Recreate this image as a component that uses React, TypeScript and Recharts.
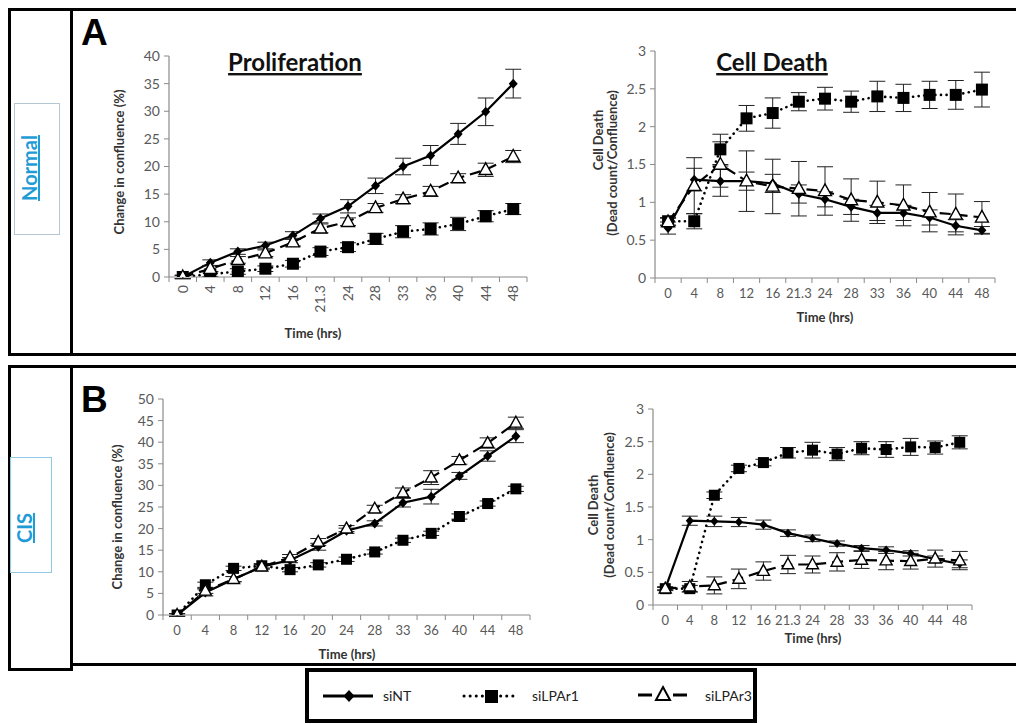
import React from 'react';
import { LineChart, Line, XAxis, YAxis, ErrorBar } from 'recharts';

// ---------- Data ----------
const timesA = ['0', '4', '8', '12', '16', '21.3', '24', '28', '33', '36', '40', '44', '48'];
const timesB = ['0', '4', '8', '12', '16', '20', '24', '28', '33', '36', '40', '44', '48'];

// A – Normal – Proliferation (change in confluence %)
const prolA_siNT = [0, 2.6, 4.6, 5.7, 7.5, 10.6, 12.8, 16.5, 20.0, 22.0, 25.9, 29.9, 35.0];
const prolA_siNT_err = [0.3, 0.5, 0.5, 0.6, 0.7, 0.8, 1.2, 1.4, 1.5, 1.8, 1.9, 2.5, 2.6];
const prolA_siLPAr1 = [0, 0.5, 1.0, 1.5, 2.4, 4.6, 5.4, 6.9, 8.2, 8.7, 9.6, 11.0, 12.3];
const prolA_siLPAr1_err = [0.3, 0.4, 0.5, 0.5, 0.6, 0.7, 0.8, 1.0, 1.1, 1.1, 1.2, 1.0, 1.0];
const prolA_siLPAr3 = [0, 1.5, 3.1, 4.3, 6.3, 8.8, 10.0, 12.5, 14.1, 15.5, 17.9, 19.4, 21.8];
const prolA_siLPAr3_err = [0.3, 0.5, 0.6, 0.6, 0.7, 0.8, 0.7, 0.8, 0.8, 0.9, 0.8, 1.2, 1.1];

// A – Normal – Cell death (dead count / confluence)
const deathA_siNT = [0.66, 1.3, 1.28, 1.28, 1.25, 1.11, 1.04, 0.94, 0.86, 0.86, 0.8, 0.69, 0.63];
const deathA_siNT_err = [0.08, 0.15, 0.2, 0.12, 0.12, 0.12, 0.1, 0.1, 0.1, 0.1, 0.1, 0.08, 0.05];
const deathA_siLPAr1 = [0.75, 0.75, 1.7, 2.11, 2.18, 2.33, 2.37, 2.33, 2.4, 2.38, 2.42, 2.42, 2.49];
const deathA_siLPAr1_err = [0.05, 0.1, 0.2, 0.17, 0.2, 0.12, 0.15, 0.14, 0.2, 0.18, 0.18, 0.19, 0.23];
const deathA_siLPAr3 = [0.74, 1.22, 1.5, 1.28, 1.21, 1.18, 1.15, 1.03, 1.0, 0.96, 0.87, 0.84, 0.8];
const deathA_siLPAr3_err = [0.05, 0.37, 0.3, 0.4, 0.36, 0.36, 0.32, 0.28, 0.28, 0.27, 0.26, 0.27, 0.21];

// B – CIS – Proliferation
const prolB_siNT = [0, 5.2, 8.3, 11.2, 12.7, 15.8, 19.5, 21.2, 26.0, 27.4, 32.2, 36.8, 41.4];
const prolB_siNT_err = [0.3, 0.8, 0.6, 0.5, 0.6, 0.8, 0.6, 0.6, 1.0, 1.7, 0.8, 1.2, 1.5];
const prolB_siLPAr1 = [0, 7.0, 10.8, 11.4, 10.5, 11.6, 12.9, 14.6, 17.3, 18.9, 22.8, 25.8, 29.2];
const prolB_siLPAr1_err = [0.3, 0.6, 0.5, 0.5, 0.5, 0.5, 0.5, 0.5, 0.5, 0.5, 0.6, 0.6, 0.6];
const prolB_siLPAr3 = [0, 5.6, 8.3, 11.2, 13.3, 16.9, 20.0, 24.6, 28.3, 31.8, 35.8, 39.8, 44.5];
const prolB_siLPAr3_err = [0.3, 0.6, 0.6, 0.6, 0.7, 0.8, 0.7, 0.8, 1.1, 1.6, 0.9, 1.2, 1.3];

// B – CIS – Cell death
const deathB_siNT = [0.25, 1.29, 1.28, 1.27, 1.23, 1.1, 1.02, 0.94, 0.87, 0.84, 0.79, 0.7, 0.63];
const deathB_siNT_err = [0.03, 0.07, 0.08, 0.07, 0.07, 0.05, 0.05, 0.04, 0.04, 0.05, 0.04, 0.05, 0.06];
const deathB_siLPAr1 = [0.25, 0.25, 1.68, 2.09, 2.18, 2.33, 2.37, 2.31, 2.4, 2.38, 2.42, 2.41, 2.49];
const deathB_siLPAr1_err = [0.02, 0.05, 0.05, 0.05, 0.05, 0.08, 0.12, 0.1, 0.1, 0.12, 0.13, 0.1, 0.1];
const deathB_siLPAr3 = [0.25, 0.28, 0.3, 0.4, 0.52, 0.62, 0.62, 0.66, 0.69, 0.68, 0.67, 0.71, 0.68];
const deathB_siLPAr3_err = [0.02, 0.08, 0.13, 0.15, 0.14, 0.14, 0.13, 0.14, 0.13, 0.14, 0.12, 0.13, 0.14];

const prolA_yTicks = [0, 5, 10, 15, 20, 25, 30, 35, 40];
const prolB_yTicks = [0, 5, 10, 15, 20, 25, 30, 35, 40, 45, 50];
const death_yTicks = [0, 0.5, 1, 1.5, 2, 2.5, 3];

const seriesNames = ['siNT', 'siLPAr1', 'siLPAr3'];

// ---------- helpers ----------
type Row = { i: number; t: string; nt: number; ntE: number; r1: number; r1E: number; r3: number; r3E: number };

function buildRows(labels: string[], nt: number[], ntE: number[], r1: number[], r1E: number[], r3: number[], r3E: number[]): Row[] {
  return labels.map((t, i) => ({ i, t, nt: nt[i], ntE: ntE[i], r1: r1[i], r1E: r1E[i], r3: r3[i], r3E: r3E[i] }));
}

const AXIS = '#8a8a8a';
const TICK = '#595959';
const FONT = 'Lato, "Open Sans", sans-serif';
const halfTicks: number[] = [];
for (let k = -1; k <= 25; k++) halfTicks.push(k / 2);

const makeDiamond = (r: number) => (p: any) => {
  const { cx, cy, index } = p;
  if (cx == null || cy == null) return <g key={'d' + index} />;
  return <path key={'d' + index} d={`M${cx},${cy - r}L${cx + r * 0.9},${cy}L${cx},${cy + r}L${cx - r * 0.9},${cy}Z`} fill="#000" />;
};
const makeSquare = (s: number) => (p: any) => {
  const { cx, cy, index } = p;
  if (cx == null || cy == null) return <g key={'s' + index} />;
  return <rect key={'s' + index} x={cx - s / 2} y={cy - s / 2} width={s} height={s} fill="#000" />;
};
const makeTriangle = (s: number) => (p: any) => {
  const { cx, cy, index } = p;
  if (cx == null || cy == null) return <g key={'t' + index} />;
  const h = s * 0.9;
  return (
    <path key={'t' + index} d={`M${cx},${cy - h * 0.6}L${cx + s / 2},${cy + h * 0.4}L${cx - s / 2},${cy + h * 0.4}Z`}
      fill="#fff" stroke="#000" strokeWidth={1.4} strokeLinejoin="miter" />
  );
};

const XTick = (props: any) => {
  const { x, y, payload, labels, rotate } = props;
  const v = payload.value as number;
  if (Math.abs(v - Math.round(v)) > 0.01) {
    return <line x1={x} x2={x} y1={y} y2={y + 5} stroke={AXIS} strokeWidth={1} />;
  }
  const label = labels[Math.round(v)];
  if (rotate) {
    return (
      <text x={x} y={y + 8} transform={`rotate(-90, ${x}, ${y + 8})`} textAnchor="end" dy="0.35em"
        fontFamily={FONT} fontSize={14} fill={TICK}>{label}</text>
    );
  }
  return (
    <text x={x} y={y + 20} textAnchor="middle" fontFamily={FONT} fontSize={13} fill={TICK}>{label}</text>
  );
};

type PanelProps = {
  left: number; top: number; width: number; height: number;
  margin: { top: number; right: number; left: number; bottom: number };
  yWidth: number; xHeight: number;
  rows: Row[]; labels: string[]; rotate?: boolean;
  yDomain: [number, number]; yTicks: number[];
  dia: number; sq: number; tri: number; cap: number;
};

function Panel(p: PanelProps) {
  return (
    <div style={{ position: 'absolute', left: p.left, top: p.top, width: p.width, height: p.height }}>
      <LineChart width={p.width} height={p.height} data={p.rows} margin={p.margin}>
        <XAxis dataKey="i" type="number" domain={[-0.5, 12.5]} ticks={halfTicks} interval={0}
          tickSize={0} tickMargin={0} tickLine={false} axisLine={{ stroke: AXIS, strokeWidth: 1.2 }}
          tick={<XTick labels={p.labels} rotate={p.rotate} />} height={p.xHeight} allowDataOverflow />
        <YAxis type="number" domain={p.yDomain} ticks={p.yTicks} interval={0} width={p.yWidth}
          axisLine={{ stroke: AXIS, strokeWidth: 1.2 }} tickLine={{ stroke: AXIS }} tickSize={5} tickMargin={4}
          tick={{ fontFamily: FONT, fontSize: 14, fill: TICK }} allowDataOverflow />
        <Line type="linear" dataKey="nt" name={seriesNames[0]} stroke="#000" strokeWidth={2.2}
          dot={makeDiamond(p.dia)} activeDot={false} isAnimationActive={false}>
          <ErrorBar dataKey="ntE" width={p.cap} stroke="#222" strokeWidth={1} direction="y" />
        </Line>
        <Line type="linear" dataKey="r1" name={seriesNames[1]} stroke="#000" strokeWidth={2.6}
          strokeDasharray="0.1 5.5" strokeLinecap="round"
          dot={makeSquare(p.sq)} activeDot={false} isAnimationActive={false}>
          <ErrorBar dataKey="r1E" width={p.cap} stroke="#222" strokeWidth={1} direction="y" />
        </Line>
        <Line type="linear" dataKey="r3" name={seriesNames[2]} stroke="#000" strokeWidth={2.2}
          strokeDasharray="11 6"
          dot={makeTriangle(p.tri)} activeDot={false} isAnimationActive={false}>
          <ErrorBar dataKey="r3E" width={p.cap} stroke="#222" strokeWidth={1} direction="y" />
        </Line>
      </LineChart>
    </div>
  );
}

const rowsA1 = buildRows(timesA, prolA_siNT, prolA_siNT_err, prolA_siLPAr1, prolA_siLPAr1_err, prolA_siLPAr3, prolA_siLPAr3_err);
const rowsA2 = buildRows(timesA, deathA_siNT, deathA_siNT_err, deathA_siLPAr1, deathA_siLPAr1_err, deathA_siLPAr3, deathA_siLPAr3_err);
const rowsB1 = buildRows(timesB, prolB_siNT, prolB_siNT_err, prolB_siLPAr1, prolB_siLPAr1_err, prolB_siLPAr3, prolB_siLPAr3_err);
const rowsB2 = buildRows(timesA, deathB_siNT, deathB_siNT_err, deathB_siLPAr1, deathB_siLPAr1_err, deathB_siLPAr3, deathB_siLPAr3_err);

const AX_TITLE = '#333';

function RotText({ x, y, text, size = 13, color = AX_TITLE, weight = 700, underline = false, family = FONT }:
  { x: number; y: number; text: string; size?: number; color?: string; weight?: number; underline?: boolean; family?: string }) {
  return (
    <text x={x} y={y} transform={`rotate(-90, ${x}, ${y})`} textAnchor="middle" fontFamily={family}
      fontSize={size} fontWeight={weight} fill={color} textDecoration={underline ? 'underline' : undefined}>{text}</text>
  );
}

export default function App() {
  const box = (l: number, t: number, w: number, h: number, bw = 3, color = '#000'): React.CSSProperties => ({
    position: 'absolute', left: l, top: t, width: w, height: h, border: `${bw}px solid ${color}`, boxSizing: 'border-box',
  });
  return (
    <div style={{ position: 'absolute', left: 0, top: 0, width: 1016, height: 724, overflow: 'hidden', background: '#fff' }}>
      {/* frames */}
      <div style={box(8, 8, 1030, 348)} />
      <div style={{ position: 'absolute', left: 70, top: 8, width: 3, height: 348, background: '#000' }} />
      <div style={box(8, 365, 65, 306)} />
      <div style={box(70, 365, 970, 301)} />
      <div style={box(14, 103, 46, 132, 1, '#b5c7d3')} />
      <div style={box(10, 457, 42, 116, 1, '#8fcbe6')} />
      <div style={box(305, 668, 452, 55, 4)} />

      <Panel left={100} top={30} width={440} height={320} margin={{ top: 26, right: 13, left: 0, bottom: 13 }}
        yWidth={69} xHeight={60} rows={rowsA1} labels={timesA} rotate yDomain={[0, 40]} yTicks={prolA_yTicks}
        dia={5} sq={12} tri={13} cap={8} />
      <Panel left={560} top={30} width={450} height={310} margin={{ top: 21, right: 15, left: 0, bottom: 0 }}
        yWidth={95} xHeight={62} rows={rowsA2} labels={timesA} yDomain={[0, 3]} yTicks={death_yTicks}
        dia={5} sq={12} tri={13} cap={8} />
      <Panel left={90} top={380} width={450} height={280} margin={{ top: 19, right: 10, left: 0, bottom: 0 }}
        yWidth={73} xHeight={45} rows={rowsB1} labels={timesB} yDomain={[0, 50]} yTicks={prolB_yTicks}
        dia={5} sq={11} tri={12} cap={8} />
      <Panel left={560} top={385} width={430} height={270} margin={{ top: 24, right: 18, left: 0, bottom: 0 }}
        yWidth={93} xHeight={50} rows={rowsB2} labels={timesA} yDomain={[0, 3]} yTicks={death_yTicks}
        dia={4.5} sq={11} tri={12} cap={8} />

      <svg width={1016} height={724} style={{ position: 'absolute', left: 0, top: 0, pointerEvents: 'none' }}>
        <text x={81} y={45} fontFamily='Arial, "Liberation Sans", sans-serif' fontSize={37} fontWeight={700} fill="#000">A</text>
        <text x={81} y={412} fontFamily='Arial, "Liberation Sans", sans-serif' fontSize={37} fontWeight={700} fill="#000">B</text>

        <text x={295} y={71} textAnchor="middle" fontFamily={FONT} fontSize={24} fontWeight={700} fill="#111" textDecoration="underline">Proliferation</text>
        <text x={772} y={71} textAnchor="middle" fontFamily={FONT} fontSize={24} fontWeight={700} fill="#111" textDecoration="underline">Cell Death</text>

        <RotText x={37} y={168} text="Normal" size={20} color="#1f9bd6" underline />
        <RotText x={32} y={528} text="CIS" size={20} color="#1f9bd6" underline />

        <RotText x={124} y={162} text="Change in confluence (%)" />
        <text x={313} y={338} textAnchor="middle" fontFamily={FONT} fontSize={13} fontWeight={700} fill={AX_TITLE}>Time (hrs)</text>

        <RotText x={603} y={140} text="Cell Death" />
        <RotText x={617} y={163} text="(Dead count/Confluence)" />
        <text x={825} y={322} textAnchor="middle" fontFamily={FONT} fontSize={13} fontWeight={700} fill={AX_TITLE}>Time (hrs)</text>

        <RotText x={122} y={517} text="Change in confluence (%)" />
        <text x={347} y={659} textAnchor="middle" fontFamily={FONT} fontSize={13} fontWeight={700} fill={AX_TITLE}>Time (hrs)</text>

        <RotText x={598} y={505} text="Cell Death" />
        <RotText x={614} y={505} text="(Dead count/Confluence)" />
        <text x={813} y={643} textAnchor="middle" fontFamily={FONT} fontSize={13} fontWeight={700} fill={AX_TITLE}>Time (hrs)</text>

        {/* legend */}
        <line x1={323} x2={373} y1={696} y2={696} stroke="#000" strokeWidth={3} />
        <path d="M349,690L354.5,696L349,702L343.5,696Z" fill="#000" />
        <text x={383} y={701} fontFamily={FONT} fontSize={14} fill="#222">{seriesNames[0]}</text>

        <line x1={464} x2={515} y1={696} y2={696} stroke="#000" strokeWidth={3} strokeDasharray="0.1 6" strokeLinecap="round" />
        <rect x={485} y={690} width={13} height={13} fill="#000" />
        <text x={532} y={701} fontFamily={FONT} fontSize={14} fill="#222">{seriesNames[1]}</text>

        <line x1={638} x2={652} y1={695} y2={695} stroke="#000" strokeWidth={3} />
        <line x1={673} x2={687} y1={695} y2={695} stroke="#000" strokeWidth={3} />
        <path d="M663,687L670,700L656,700Z" fill="#fff" stroke="#000" strokeWidth={2} />
        <text x={705} y={701} fontFamily={FONT} fontSize={14} fill="#222">{seriesNames[2]}</text>
      </svg>
    </div>
  );
}
